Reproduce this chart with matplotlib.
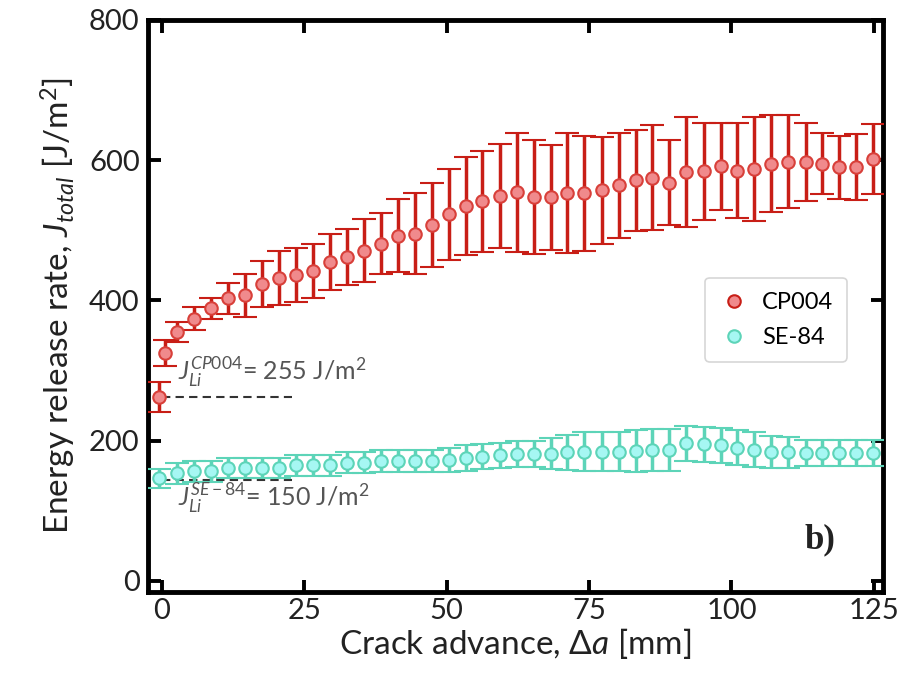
import matplotlib
matplotlib.use("Agg")
import matplotlib.pyplot as plt
from matplotlib.lines import Line2D

plt.rcParams['font.family'] = ['Lato', 'DejaVu Sans']
plt.rcParams['mathtext.fontset'] = 'custom'
plt.rcParams['mathtext.rm'] = 'Lato'
plt.rcParams['mathtext.it'] = 'Lato:italic'
plt.rcParams['mathtext.fallback'] = 'stixsans'

# ---- data ----
x_red = [-0.5, 0.6, 2.7, 5.7, 8.7, 11.6, 14.6, 17.6, 20.6, 23.6, 26.5, 29.5, 32.5, 35.5,
         38.5, 41.4, 44.4, 47.4, 50.4, 53.4, 56.3, 59.3, 62.3, 65.3, 68.3, 71.2, 74.2,
         77.2, 80.2, 83.2, 86.1, 89.1, 92.1, 95.1, 98.1, 101.0, 104.0, 107.0, 110.0,
         113.0, 115.9, 118.9, 121.9, 124.9]
y_red = [262, 325, 355, 374, 389, 403, 407, 423, 432, 436, 442, 455, 462, 471, 481,
         492, 495, 508, 523, 534, 541, 549, 554, 547, 547, 553, 553, 557, 564, 571,
         575, 568, 583, 584, 591, 585, 587, 595, 598, 597, 595, 590, 590, 602]
e_red = [21, 19, 14, 17, 15, 22, 31, 33, 38, 38, 38, 40, 40, 45, 44,
         52, 58, 60, 65, 70, 72, 74, 85, 81, 75, 86, 82, 76, 75, 72,
         75, 61, 79, 69, 62, 68, 74, 69, 66, 56, 43, 45, 47, 50]

x_cyan = [-0.5, 2.7, 5.7, 8.7, 11.6, 14.6, 17.6, 20.6, 23.6, 26.5, 29.5, 32.5, 35.5,
          38.5, 41.4, 44.4, 47.4, 50.4, 53.4, 56.3, 59.3, 62.3, 65.3, 68.3, 71.2, 74.2,
          77.2, 80.2, 83.2, 86.1, 89.1, 92.1, 95.1, 98.1, 101.0, 104.0, 107.0, 110.0,
          113.0, 115.9, 118.9, 121.9, 124.9]
y_cyan = [146, 153, 156, 156, 161, 161, 161, 161, 165, 165, 165, 168, 168, 171, 171,
          171, 171, 172, 175, 177, 179, 181, 181, 181, 183, 184, 184, 184, 185, 187,
          186, 196, 195, 193, 190, 187, 184, 183, 182, 182, 182, 182, 182]
e_cyan = [14, 15, 15, 15, 14, 14, 14, 14, 15, 15, 15, 15, 15, 16, 16, 16, 16, 17, 18,
          18, 18, 19, 19, 22, 25, 28, 28, 28, 30, 30, 30, 25, 25, 25, 25, 25, 23, 22,
          19, 19, 19, 19, 19]

labels = ["CP004", "SE-84"]
jli_cp = 262
jli_se = 144
x_ticks = [0, 25, 50, 75, 100, 125]
y_ticks = [0, 200, 400, 600, 800]

red_line = '#c81e16'
red_face = '#f08a8c'
cy_line = '#5dd4b8'
cy_face = '#a6f7f3'

fig = plt.figure(figsize=(9.04, 6.73), dpi=100)
ax = fig.add_axes([0.1637, 0.1204, 0.8131, 0.8500])

ax.plot([0, 22.8], [jli_cp, jli_cp], ls=(0, (4, 2.5)), color='#333333', lw=1.5, zorder=1)
ax.plot([0, 22.8], [jli_se, jli_se], ls=(0, (4, 2.5)), color='#333333', lw=1.5, zorder=1)

ax.errorbar(x_red, y_red, yerr=e_red, fmt='o', color=red_line, ecolor=red_line,
            elinewidth=2.5, capsize=8.5, capthick=4.2, ms=9, mfc=red_face,
            mec='#d8403a', mew=1.5, zorder=3)
ax.errorbar(x_cyan, y_cyan, yerr=e_cyan, fmt='o', color=cy_line, ecolor=cy_line,
            elinewidth=2.5, capsize=8.5, capthick=4.2, ms=9, mfc=cy_face,
            mec=cy_line, mew=1.5, zorder=3)

ax.set_xlim(-2.4, 126.6)
ax.set_ylim(-16, 800)
ax.set_xticks(x_ticks)
ax.set_yticks(y_ticks)
ax.tick_params(direction='in', length=9, width=2.8, labelsize=21, top=True, right=True,
               colors='black', labelcolor='#222222')
ax.tick_params(axis='x', pad=4)
ax.tick_params(axis='y', pad=6)
for s in ax.spines.values():
    s.set_linewidth(3.5)

ax.set_xlabel(r'Crack advance, $\Delta a$ [mm]', fontsize=24, color='#222222', labelpad=2)
ax.set_ylabel(r'Energy release rate, $J_{total}$ [J/m$^2$]', fontsize=24, color='#222222',
              labelpad=8)

ax.text(2.9, 297, r'$J_{Li}^{CP004}$= 255 J/m$^2$', fontsize=18, color='#555555',
        ha='left', va='center')
ax.text(2.9, 118, r'$J_{Li}^{SE-84}$= 150 J/m$^2$', fontsize=18, color='#555555',
        ha='left', va='center')
ax.text(115.5, 58, 'b)', fontsize=25, fontweight='bold', family='Liberation Serif',
        ha='center', va='center', color='#222222')

handles = [Line2D([], [], ls='none', marker='o', ms=9, mfc=red_face, mec=red_line, mew=1.5),
           Line2D([], [], ls='none', marker='o', ms=9, mfc=cy_face, mec=cy_line, mew=1.5)]
leg = ax.legend(handles, labels, loc='upper left', bbox_to_anchor=(0.742, 0.57),
                fontsize=17, frameon=True, fancybox=True, edgecolor='#cccccc',
                handletextpad=0.6, labelspacing=0.6, borderpad=0.6, handlelength=1.2)
leg.get_frame().set_linewidth(1.2)

fig.savefig('out.png', dpi=100)
